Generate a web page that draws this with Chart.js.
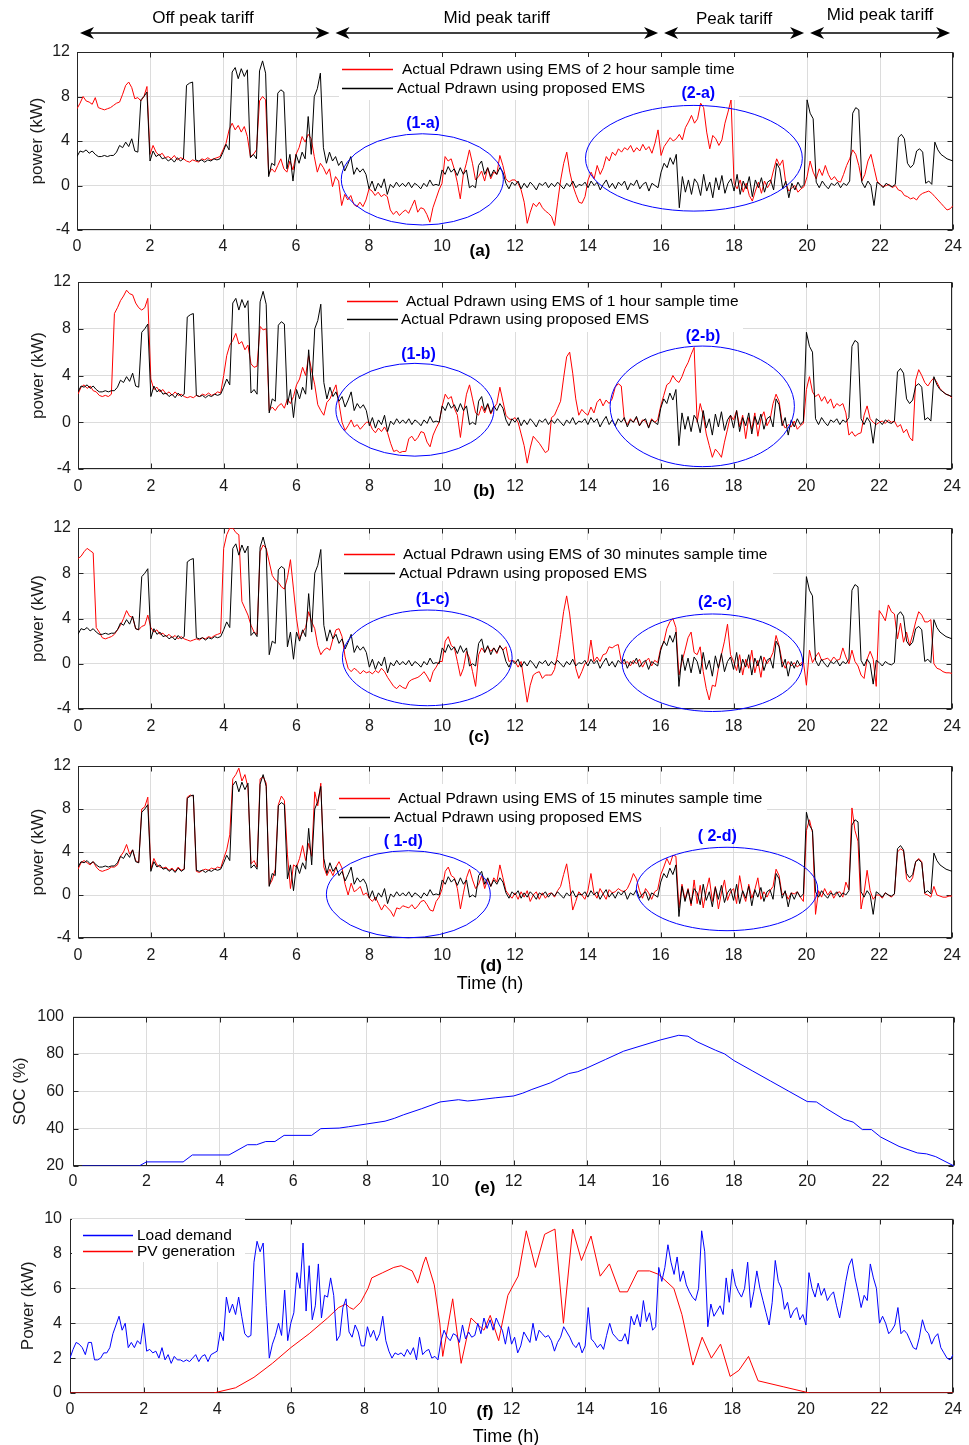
<!DOCTYPE html>
<html>
<head>
<meta charset="utf-8">
<script src="https://cdn.jsdelivr.net/npm/chart.js@4.4.1/dist/chart.umd.min.js"></script>
<style>
  body { margin: 0; background: #fff; width: 969px; height: 1445px; position: relative; overflow: hidden; }
</style>
</head>
<body>
<script>
// ---- data, 5-minute samples, one row per hour ----
const t5 = Array.from({ length: 289 }, (_, i) => i / 12); // sampling instants in hours

// Pdrawn with the proposed EMS (black, same in panels a-d)
const pProposed = [
  2.6, 3.1, 3.0, 3.2, 2.9, 3.1, 2.8, 2.6, 2.6, 2.7, 2.6, 2.7,
  2.7, 3.0, 3.6, 3.4, 3.9, 3.5, 4.2, 3.1, 3.0, 7.7, 8.0, 8.4,
  2.2, 3.1, 2.6, 2.8, 2.4, 2.5, 2.2, 2.4, 2.1, 2.5, 2.2, 2.4,
  9.0, 9.2, 9.3, 2.3, 2.2, 2.3, 2.1, 2.3, 2.2, 2.4, 2.3, 2.4,
  3.0, 3.7, 3.2, 10.2, 10.6, 9.6, 10.5, 9.8, 10.4, 2.5, 2.8, 2.4,
  10.3, 11.2, 10.1, 0.8, 2.0, 1.8, 8.3, 8.6, 8.4, 1.5, 2.8, 0.4,
  2.8, 2.0, 3.0, 2.4, 6.2, 2.8, 8.0, 8.7, 10.1, 3.4, 2.0, 3.0,
  2.2, 2.6, 1.8, 2.2, 1.3, 1.9, 2.6, 1.0, 1.6, 1.2, 1.5, 1.0,
  -0.3, 0.4, -0.5, 0.2, -0.2, 0.6, -0.8, 0.1, -0.2, 0.3, -0.1, 0.2,
  -0.1, 0.3, -0.2, 0.2, 0.0, -0.3, 0.2, -0.1, 0.5, 0.0, 0.1, 0.0,
  1.4, 1.0, 1.7, 1.2, 1.5, 0.9, 1.6, 1.0, 1.4, -0.2, 0.0, -0.2,
  1.8, 2.2, 1.0, 1.6, 0.8, 1.4, 1.0, 1.6, 1.2, 0.2, -0.3, 0.3,
  0.0, 0.4, -0.3, 0.2, -0.2, 0.3, 0.0, -0.4, 0.2, 0.0, 0.3, -0.2,
  0.2, -0.1, 0.3, 0.0, -0.3, 0.2, -0.1, 0.4, -0.2, 0.1, 0.0, 0.3,
  -0.2, 0.4, 0.0, 0.3, -0.4, 0.1, 0.5, -0.2, 0.2, -0.3, 0.3, 0.0,
  0.4, -0.4, 0.2, 0.0, 0.5, -0.3, 0.1, 0.3, -0.5, 0.2, 0.0, -0.2,
  1.2, 2.0, 1.6, 2.5, 1.9, 2.8, -2.0, 0.8, -0.6, 0.5, -0.8, 0.6,
  0.2, -0.9, 1.0, -0.5, 0.3, -1.1, 0.7, -0.4, 0.9, -0.7, 0.2, 0.6,
  -0.5, 1.0, -0.8, 0.4, -0.3, 0.8, -1.0, 0.5, -0.2, 0.7, -0.6, 0.3,
  0.5, -0.4, 2.0, 1.5, -0.3, 0.4, -1.1, 0.2, -0.4, 0.3, -0.2, 0.1,
  7.7, 6.5, 6.0, 0.3, -0.2, 0.4, 0.0, -0.3, 0.2, 0.0, 0.3, -0.2,
  0.2, 0.0, 0.4, 6.5, 7.0, 6.8, 0.3, -0.2, 0.4, 0.0, -1.8, 0.3,
  0.1, -0.2, 0.2, 0.0, -0.1, 0.1, 4.3, 4.6, 4.2, 2.0, 1.6, 1.9,
  3.1, 3.3, 3.0, 0.2, 0.4, 0.1, 3.9, 3.2, 2.8, 2.6, 2.4, 2.3,
  2.2
];

// Pdrawn with EMS of 2 hour sample time (panel a, red)
const p2h = [
  6.9, 7.4, 8.0, 7.6, 7.5, 7.3, 7.9, 7.0, 6.9, 6.8, 6.9, 7.0,
  7.2, 7.4, 7.5, 8.2, 9.0, 9.3, 8.8, 7.8, 7.9, 7.6, 8.0, 8.9,
  2.8, 3.6, 3.0, 2.7, 2.9, 2.5, 2.6, 2.4, 2.7, 2.3, 2.5, 2.4,
  2.2, 2.1, 2.3, 2.2, 2.1, 2.4, 2.3, 2.5, 2.3, 2.4, 2.5, 2.6,
  3.2, 3.8, 5.0, 5.6, 5.0, 5.4, 4.8, 5.3, 4.4, 2.6, 2.8, 3.2,
  7.6, 8.0, 7.7, 1.0, 1.5, 1.2, 1.8, 2.4, 1.5, 1.2, 2.2, 1.4,
  2.8, 3.4, 4.4, 3.9, 4.6, 4.2, 2.6, 1.2, 2.0, 1.6, 1.0, 1.5,
  -0.1, 0.8, 0.4, -1.8, -0.8, -1.3, -0.9, -1.7, -1.9, -1.5, -1.9, -1.3,
  -0.3, -0.5, -0.9, -0.6, -1.0, -0.8, -1.0, -2.2, -2.6, -2.3, -2.7, -2.4,
  -2.2, -2.5, -1.9, -1.3, -2.4, -2.0, -2.1, -2.6, -3.3, -2.0, -1.2, -0.4,
  0.2, 2.6, 2.2, 2.4, 1.5, 0.3, -1.2, 1.0, 2.0, 3.2, 2.0, 0.5,
  0.8, 1.3, 0.4, 1.6, 0.6, 1.2, 1.0, 2.7, 1.8, 0.6, 0.3, 0.5,
  0.5, 0.2, -0.4, -1.5, -3.4, -2.4, -1.6, -1.9, -1.5, -2.0, -2.3, -2.5,
  -2.8, -3.6, -1.5, 0.5, 2.0, 3.0, 1.2, 0.0, -0.8, -1.5, -1.6, -1.0,
  0.5, 1.2, 0.6, 1.8, 1.0, 1.6, 2.6, 2.2, 3.0, 2.7, 3.3, 3.0,
  3.4, 3.2, 3.6, 3.0, 3.4, 3.1, 3.7, 3.2, 3.5, 2.9, 3.8, 5.0,
  2.7, 3.5, 3.9, 4.3, 4.0, 4.2, 4.6, 4.1, 5.2, 5.7, 6.3, 5.6,
  6.0, 7.4, 7.0, 4.8, 3.3, 4.5, 4.2, 3.6, 4.1, 5.6, 6.6, 7.7,
  0.2, -0.3, 0.5, -0.6, 0.2, -0.9, -1.4, -0.5, 0.3, -0.7, 0.4, -0.2,
  0.3, 1.4, 2.4, 1.8, 2.3, 0.2, -0.5, -0.2, 0.0, -0.6, -0.3, -0.1,
  0.8, 2.2, 1.2, 0.6, 1.5, 0.9, 1.8, 1.0, 0.5, 0.8, 0.4, 0.3,
  1.0, 1.8, 2.4, 3.2, 2.8, 1.8, 0.4, 1.0, 2.2, 2.8, 1.6, 0.4,
  0.1, -0.1, 0.0, 0.1, -0.2, 0.0, -0.4, -0.5, -0.9, -1.0, -1.2, -1.1,
  -1.3, -0.9, -0.7, -0.6, -0.5, -0.7, -1.0, -1.3, -1.6, -1.9, -2.2, -2.1,
  -1.8
];

// Pdrawn with EMS of 1 hour sample time (panel b, red)
const p1h = [
  2.4, 3.0, 3.2, 2.9, 3.1, 2.7, 2.6, 2.3, 2.2, 2.3, 2.2, 2.4,
  9.3, 9.8, 10.4, 10.8, 11.3, 11.0, 10.9, 10.2, 9.8, 9.6, 9.8, 10.6,
  3.7, 2.8, 3.0, 2.6, 2.8, 2.4, 2.6, 2.3, 2.6, 2.3, 2.4, 2.2,
  2.1, 2.2, 2.1, 2.3, 2.2, 2.4, 2.3, 2.5, 2.3, 2.4, 2.6, 2.5,
  4.0, 5.7, 6.6, 7.0, 7.6, 6.7, 6.9, 6.2, 6.6, 5.0, 4.7, 4.8,
  8.2, 7.9, 8.0, 1.0, 1.3, 1.0, 1.4, 1.6, 1.2, 2.0, 1.6, 2.2,
  3.2, 3.7, 4.7, 4.0, 5.7, 4.4, 3.2, 1.5, 1.0, 0.6, 1.7, 2.0,
  2.6, 3.2, 1.6, 0.0, -0.7, -0.3, 0.2, -0.4, -0.2, -0.6, -0.3, 0.0,
  0.0, -0.6, -0.9, -0.5, -0.8, -0.4, -0.9, -1.8, -2.5, -2.4, -2.6, -2.5,
  -2.5, -1.4, -1.2, -1.6, -1.3, -0.8, -0.9, -1.7, -2.1, -1.1, -0.5, 0.0,
  1.4, 2.4, 2.0, 2.2, 1.2, 0.6, -1.3, 0.8, 2.4, 3.2, 2.0, 0.8,
  0.6, 1.4, 0.8, 1.5, 0.7, 1.2, 1.6, 3.0, 1.8, 0.6, 0.3, 0.2,
  0.4, 0.0, -1.0, -2.0, -3.5, -2.2, -1.2, -1.5, -1.8, -2.2, -2.6, -2.4,
  0.4, 0.6, 1.2, 1.8, 3.8, 5.6, 6.0, 4.2, 2.0, 0.6, 1.1, 0.8,
  0.6, 1.3, 0.8, 1.7, 2.0, 1.4, 1.9, 1.6, 2.0, 3.0, 3.3, 3.1,
  0.2, -0.2, 0.3, 0.0, 0.4, -0.3, 0.2, 0.1, -0.4, 0.3, 0.0, 0.2,
  1.4, 2.3, 3.2, 3.4, 4.0, 3.6, 3.4, 3.9, 4.6, 5.1, 5.8, 6.4,
  0.0, 1.6, 0.6, -1.0, -2.0, -3.0, -2.3, -2.6, -3.0, -1.7, -0.6, 0.6,
  0.2, 1.0, -0.4, 0.6, -1.4, 0.4, -0.6, 0.8, -1.2, 0.3, 0.9, -0.3,
  0.2, 1.6, 2.4, 1.8, 0.0, -0.5, -0.2, -0.4, 0.1, -0.6, -0.3, -0.1,
  2.8, 3.9, 2.6, 2.2, 2.4, 1.8, 2.2, 1.6, 2.0, 1.2, 1.6, 1.4,
  1.6, 0.8, -1.1, -0.8, -1.2, -1.0, -0.9, 0.6, 1.4, 0.3, 0.0, -0.2,
  0.0, 0.1, -0.1, 0.2, 0.0, 0.1, -0.4, -0.2, -0.9, -0.6, -1.3, -1.6,
  3.6, 4.5, 4.0, 3.4, 3.1, 3.5, 3.8, 3.4, 2.9, 2.6, 2.4, 2.3,
  2.1
];

// Pdrawn with EMS of 30 minutes sample time (panel c, red)
const p30m = [
  9.3, 9.5, 9.9, 10.2, 10.0, 9.8, 3.2, 2.8, 2.3, 2.2, 2.3, 2.4,
  2.6, 3.0, 3.4, 4.0, 4.7, 4.2, 4.1, 3.1, 3.0, 3.3, 3.4, 4.3,
  3.2, 2.8, 3.0, 2.6, 2.7, 2.4, 2.6, 2.3, 2.5, 2.2, 2.4, 2.2,
  2.1, 2.0, 2.1, 2.2, 2.1, 2.3, 2.2, 2.4, 2.3, 2.5, 2.6, 2.7,
  10.2, 11.4, 12.0, 12.0, 11.6, 11.4, 5.5, 4.9, 4.3, 3.4, 2.8, 2.6,
  9.9, 10.5, 10.2, 9.0, 7.8, 7.4, 7.2, 6.8, 6.6, 7.6, 9.2, 6.6,
  4.0, 2.2, 2.8, 3.2, 4.6, 3.7, 3.1, 1.6, 0.8, 1.2, 1.4, 1.2,
  2.2, 3.0, 3.1, 2.4, 0.6, -0.4, -0.7, -0.4, -0.6, -0.9, -0.6, -0.8,
  -0.7, -0.9, -0.6, -0.8, -0.4, -0.7, -1.2, -1.6, -2.0, -2.2, -1.9, -2.1,
  -2.2, -1.6, -1.4, -1.3, -1.2, -1.0, -0.7, -1.1, -1.6, -0.7, -0.3, 0.2,
  0.2, 2.0, 2.4, 1.6, 1.4, 0.2, -1.1, -0.4, 1.1, 0.5, -0.7, -2.0,
  0.8, 1.4, 1.0, 1.5, 1.1, 1.4, 0.9, 1.6, 1.2, 1.5, 0.2, 0.3,
  0.2, -0.3, 0.2, -1.6, -3.4, -1.9, -1.0, -0.8, -0.7, -1.3, -1.0, -1.0,
  -1.0, -0.5, 0.8, 2.6, 4.6, 6.0, 4.4, 2.0, -0.4, -1.3, -0.7, 0.0,
  0.2, 2.1, 0.2, 0.6, 0.2, 0.8, 0.9, 1.5, 1.4, 1.6, 1.7, 0.2,
  0.0, 0.2, -0.2, 0.3, 0.0, 0.4, -0.3, 0.2, 0.5, -0.2, 0.3, 0.1,
  1.4, 1.9, 3.1, 3.7, 4.0, 3.2, -1.0, 0.2, 1.2, 2.3, 2.8, 1.0,
  0.8, 1.5, -0.7, -2.2, -3.2, -1.9, -2.0, -0.4, 0.8, 2.0, 3.5, 0.8,
  0.2, -0.6, 0.8, -1.0, 0.4, -0.4, 1.2, -0.8, 0.3, -1.2, 0.6, 0.0,
  0.4, 1.0, 2.5, 1.6, 0.2, -0.4, 0.2, -0.2, 0.1, -0.3, 0.0, 0.2,
  -1.9, 1.2, 0.1, 0.6, 1.0, 0.3, 0.4, 0.5, 0.2, 0.6, 0.3, 0.4,
  1.4, 0.6, 0.0, 1.2, 0.2, -0.2, -1.0, -1.3, 0.4, 1.1, 0.4, -2.0,
  4.7, 4.3, 3.8, 5.2, 4.6, 4.4, 2.2, 3.6, 1.9, 2.8, 1.6, 2.6,
  3.7, 4.6, 4.3, 3.7, 3.7, 3.9, 0.0, -0.4, -0.5, -0.7, -0.8, -0.8,
  -0.85
];

// Pdrawn with EMS of 15 minutes sample time (panel d, red)
const p15m = [
  2.4, 3.0, 3.2, 3.0, 2.8, 3.1, 2.6, 2.3, 2.2, 2.3, 2.4, 2.6,
  2.6, 2.8, 3.6, 4.0, 4.7, 3.8, 4.2, 3.2, 3.0, 8.0, 8.2, 9.1,
  2.4, 3.4, 2.8, 2.6, 2.5, 2.6, 2.3, 2.5, 2.2, 2.6, 2.3, 2.4,
  9.1, 9.3, 9.2, 2.2, 2.1, 2.3, 2.4, 2.3, 2.5, 2.4, 2.6, 2.5,
  3.4, 4.2, 5.6, 10.8, 11.2, 11.8, 10.6, 11.2, 10.0, 2.9, 3.2, 2.6,
  10.8, 11.0, 10.4, 0.9, 1.4, 2.4, 8.4, 9.2, 8.8, 3.8, 0.6, 2.8,
  2.6, 3.4, 4.6, 3.2, 4.8, 3.6, 9.6, 8.3, 10.4, 2.6, 1.8, 2.4,
  1.8, 2.6, 3.1, 2.5, 1.0, 0.0, 1.1, 0.3, 0.5, 0.8, 0.0, 0.2,
  -0.3, -0.6, -0.2, -0.8, -1.4, -0.9, -1.2, -1.5, -2.0, -1.2, -1.3, -1.0,
  -1.1, -1.2, -0.9, -1.3, -1.0, -0.6, -0.5, -0.9, -1.4, -1.5, -0.6, -0.2,
  0.6, 2.2, 2.6, 1.8, 1.6, 0.6, -1.3, 0.2, 1.6, 2.4, 1.4, 0.6,
  1.0, 1.8, 0.6, 1.5, 0.8, 1.6, 1.2, 2.8, 1.6, 0.4, 0.0, -0.3,
  0.2, -0.4, 0.3, -0.2, 0.4, -0.6, 0.0, 0.3, -0.4, 0.2, -0.3, 0.1,
  0.2, -0.2, 0.4, 0.8, 1.9, 2.9, 1.0, -1.4, -0.6, 0.3, 0.0, -0.4,
  0.4, 2.0, 0.2, -0.3, 0.6, 0.1, -0.4, 0.5, 0.2, 0.3, 0.6, 0.4,
  0.3, 0.6, 1.2, 2.0, 1.5, 0.4, -0.3, 0.6, 0.2, -0.4, 0.3, 0.5,
  1.9, 2.6, 3.4, 2.8, 3.7, 3.6, -1.2, 1.0, -0.4, 0.6, -1.0, 1.4,
  -0.8, 0.9, -1.2, 0.4, 1.6, -0.6, 0.8, -1.3, 0.2, 1.4, -0.5, 0.3,
  0.6, -0.8, 1.8, 0.2, -0.6, 1.0, -0.3, 0.5, 1.6, -0.4, 0.3, -0.2,
  0.4, 0.8, 2.4, 1.8, 0.0, 0.3, -0.4, 0.2, 0.1, 0.3, -0.2, -0.6,
  6.0, 7.0, 5.8, -1.8, 0.4, -0.2, 0.6, 0.0, 0.4, -0.3, 0.2, 0.3,
  -0.2, 1.2, 0.5, 8.1, 6.0, 5.0, -1.3, 0.2, 2.3, 0.4, -0.4, 0.0,
  0.0, -0.3, 0.2, 0.0, -0.2, 0.1, 4.0, 4.3, 4.1, 1.5, 1.2, 1.6,
  3.1, 3.4, 3.1, 0.1, 0.0, -0.2, 0.8, 0.0, -0.1, -0.2, -0.2, -0.1,
  -0.1
];

// Load demand (panel f, blue)
const load = [
  2.0, 2.5, 2.9, 2.8, 2.6, 2.2, 2.9, 2.9, 1.9, 1.9, 2.0, 2.3,
  2.3, 2.6, 3.4, 3.9, 4.4, 3.6, 4.0, 2.6, 2.9, 2.6, 3.0, 2.8,
  4.0, 2.4, 2.5, 2.3, 2.4, 2.0, 2.6, 1.9, 2.2, 1.7, 2.1, 1.9,
  1.9, 1.8, 1.9, 1.8, 2.0, 2.2, 1.8, 2.1, 2.2, 1.8, 2.2, 2.3,
  2.4, 3.5, 3.0, 5.5, 4.6, 5.1, 4.5, 5.5, 4.4, 3.4, 3.2, 3.3,
  7.5, 8.7, 8.1, 8.6, 5.0, 2.0, 2.8, 3.3, 4.0, 3.3, 5.9, 3.0,
  4.0, 4.6, 6.9, 6.0, 8.6, 4.7, 7.3, 4.2, 5.0, 7.4, 4.3, 5.6,
  5.5, 6.6, 5.6, 3.0, 3.3, 4.9, 5.4, 3.5, 3.2, 3.9, 3.5, 2.7,
  2.7, 3.8, 3.2, 3.6, 3.0, 3.4, 4.4, 3.0, 2.4, 2.0, 2.3, 2.2,
  2.3, 2.1, 2.5, 2.2, 2.6, 1.9, 3.2, 2.2, 2.4, 2.5, 2.0, 2.1,
  1.9, 3.0, 3.6, 3.2, 3.0, 3.4, 3.3, 2.9, 3.9, 3.1, 3.5, 3.2,
  3.3, 4.0, 3.4, 4.3, 3.7, 4.2, 3.6, 4.3, 3.9, 3.6, 2.8, 3.8,
  2.8, 3.2, 2.3, 2.7, 3.5, 3.2, 2.9, 4.0, 3.0, 3.6, 3.4, 3.2,
  3.3, 3.0, 2.4, 2.9, 3.2, 3.8, 3.5, 3.2, 2.8, 2.6, 2.9, 2.3,
  2.7, 4.9, 3.1, 2.9, 2.6, 2.8, 2.5, 3.3, 4.0, 3.4, 3.2, 3.0,
  3.0, 3.4, 2.8, 4.4, 3.9, 4.5, 3.8, 5.3, 4.1, 4.6, 3.6, 3.8,
  7.2, 6.4, 7.2, 8.5, 7.5, 6.8, 7.8, 6.4, 7.0, 6.2, 5.8, 5.5,
  5.3, 6.0, 9.3, 8.1, 3.8, 5.1, 4.4, 4.7, 5.0, 4.5, 6.6, 5.2,
  7.1, 6.2, 5.8, 5.5, 6.0, 7.5, 4.9, 5.8, 7.0, 6.0, 5.3, 4.6,
  3.9, 5.2, 7.6, 6.4, 6.0, 4.8, 5.2, 4.3, 4.7, 4.9, 4.2, 4.5,
  3.9, 6.9, 6.0, 5.5, 6.3, 5.6, 6.0, 5.3, 5.6, 5.8, 5.0, 4.3,
  5.3, 6.4, 7.3, 7.7, 6.6, 5.8, 4.9, 5.6, 5.3, 7.4, 6.6, 6.0,
  4.0, 4.4, 4.0, 3.4, 3.6, 3.9, 4.9, 3.4, 3.6, 3.4, 3.0, 2.6,
  2.5, 3.2, 4.2, 3.6, 3.4, 2.8, 3.2, 3.4, 2.6, 2.3, 2.0, 1.9,
  2.2
];

// PV generation (panel f, red)
const pvT = [0, 3.9, 4.0, 4.5, 5.0, 5.5, 6.0, 6.5, 7.0, 7.3, 7.5, 7.6, 7.7, 7.9, 8.1, 8.2, 8.5, 8.8, 9.0, 9.3,
  9.45, 9.6, 9.67, 9.9, 10.05, 10.13, 10.4, 10.63, 10.9, 11.09, 11.25, 11.42, 11.65, 11.9, 12.18, 12.4, 12.65, 12.9, 13.18, 13.41,
  13.66, 13.9, 14.16, 14.41, 14.66, 14.94, 15.15, 15.43, 15.75, 16.0, 16.41, 16.63, 16.93, 17.18, 17.43, 17.68, 17.94, 18.18, 18.44, 18.7,
  19.4, 20.1, 24];
const pv = [0, 0, 0.05, 0.3, 0.9, 1.7, 2.6, 3.4, 4.3, 4.9, 5.1, 4.9, 4.8, 5.2, 6.0, 6.6, 6.9, 7.2, 7.3, 7.0,
  6.3, 7.4, 7.8, 6.2, 4.0, 2.1, 5.4, 1.7, 4.3, 3.9, 3.6, 4.45, 3.0, 5.6, 6.7, 9.3, 7.2, 9.1, 9.4, 4.0,
  9.4, 7.6, 9.0, 6.7, 7.4, 5.8, 5.8, 7.0, 7.0, 6.8, 6.0, 4.5, 1.6, 3.2, 2.0, 2.8, 0.95, 1.3, 2.1, 0.7,
  0.35, 0, 0];

// battery state of charge (panel e)
const socT = [0.25, 1.8, 2.0, 3.0, 3.25, 4.25, 4.75, 5.0, 5.25, 5.5, 5.75, 6.5, 6.75, 7.25, 7.5, 8.0, 8.5, 8.75, 9.0, 9.5,
  10.0, 10.5, 10.75, 11.0, 11.5, 12.0, 12.25, 12.5, 13.0, 13.5, 13.75, 14.0, 14.5, 15.0, 15.5, 16.0, 16.5, 16.75, 17.0, 17.5,
  17.75, 18.0, 18.5, 19.0, 19.5, 20.0, 20.25, 20.5, 21.0, 21.25, 21.5, 21.75, 22.0, 22.5, 23.0, 23.25, 23.5, 24.0];
const soc = [20, 20, 22.2, 22.2, 25.9, 25.9, 31.4, 31.4, 33.1, 33.1, 36.4, 36.4, 40, 40.3, 41, 42.5, 44, 45.5, 47.4, 50.7,
  54.3, 55.5, 54.8, 55.3, 56.5, 57.5, 59, 61, 64.5, 69.5, 70.5, 72.5, 77, 81.5, 84.5, 87.5, 90, 89.5, 86.5, 82,
  80, 76.5, 71, 65.5, 60, 54.5, 54.3, 51, 45, 43.5, 39.5, 39.5, 35.5, 30.5, 27, 26.5, 25, 20];

// tariff periods shown above panel (a)
const tariffNames = ['Off peak tariff', 'Mid peak tariff', 'Peak tariff', 'Mid peak tariff'];
const tariffFrom = [0, 7, 16, 20];
const tariffTo = [7, 16, 20, 24];

// ---- drawing ----
const FONT = '"Liberation Sans", Arial, Helvetica, sans-serif';
Chart.defaults.font.family = FONT;
const GRID = '#dcdcdc';
const TXT = '#1a1a1a';

const pts = (ts, vs) => vs.map((v, i) => ({ x: ts[i], y: v }));

function arrowHead(ctx, x, y, dir) {
  ctx.beginPath();
  ctx.moveTo(x, y);
  ctx.lineTo(x + dir * 14, y - 6);
  ctx.lineTo(x + dir * 10, y);
  ctx.lineTo(x + dir * 14, y + 6);
  ctx.closePath();
  ctx.fill();
}

const decor = {
  id: 'decor',
  beforeDatasetsDraw(chart) {
    // axes box with inward ticks (under the traces, so traces lying on an edge stay visible)
    const ctx = chart.ctx, a = chart.chartArea, xs = chart.scales.x, ys = chart.scales.y;
    const l = Math.round(a.left) + 0.5, t = Math.round(a.top) + 0.5;
    const r = Math.round(a.right) - 0.5, b = Math.round(a.bottom) - 0.5;
    ctx.save();
    ctx.strokeStyle = '#262626'; ctx.lineWidth = 1;
    ctx.strokeRect(l, t, r - l, b - t);
    ctx.beginPath();
    xs.ticks.forEach(tk => {
      const px = Math.round(xs.getPixelForValue(tk.value)) + 0.5;
      ctx.moveTo(px, b); ctx.lineTo(px, b - 5);
      ctx.moveTo(px, t); ctx.lineTo(px, t + 5);
    });
    ys.ticks.forEach(tk => {
      const py = Math.round(ys.getPixelForValue(tk.value)) + 0.5;
      ctx.moveTo(l, py); ctx.lineTo(l + 5, py);
      ctx.moveTo(r, py); ctx.lineTo(r - 5, py);
    });
    ctx.stroke();
    ctx.restore();
  },
  afterDatasetsDraw(chart, args, o) {
    const ctx = chart.ctx, xs = chart.scales.x, ys = chart.scales.y;
    ctx.save();
    if (o.legend) {
      const L = o.legend;
      ctx.translate(0, -o.off);
      ctx.fillStyle = '#fff';
      ctx.fillRect(L.box[0], L.box[1], L.box[2] - L.box[0], L.box[3] - L.box[1]);
      ctx.font = L.size + 'px ' + FONT;
      ctx.textBaseline = 'middle';
      ctx.textAlign = 'left';
      L.items.forEach(it => {
        ctx.strokeStyle = it.color; ctx.lineWidth = 1.4;
        ctx.beginPath(); ctx.moveTo(L.x1, it.y + 0.5); ctx.lineTo(L.x2, it.y + 0.5); ctx.stroke();
        ctx.fillStyle = '#000';
        ctx.fillText(it.text, it.tx, it.y + 1);
      });
      ctx.translate(0, o.off);
    }
    (o.ellipses || []).forEach(e => {
      const cx = xs.getPixelForValue(e.cx), cy = ys.getPixelForValue(e.cy);
      const rx = Math.abs(xs.getPixelForValue(e.cx + e.rx) - cx);
      const ry = Math.abs(ys.getPixelForValue(e.cy + e.ry) - cy);
      ctx.strokeStyle = '#0000ff'; ctx.lineWidth = 1;
      ctx.beginPath(); ctx.ellipse(cx, cy, rx, ry, 0, 0, Math.PI * 2); ctx.stroke();
      ctx.fillStyle = '#0000ff';
      ctx.font = 'bold 16px ' + FONT;
      ctx.textAlign = 'center'; ctx.textBaseline = 'middle';
      ctx.fillText(e.label, xs.getPixelForValue(e.lx), ys.getPixelForValue(e.ly));
    });
    ctx.restore();
  },
  afterDraw(chart, args, o) {
    const ctx = chart.ctx, a = chart.chartArea, xs = chart.scales.x;
    ctx.save();
    // y title
    ctx.fillStyle = TXT;
    ctx.font = '17px ' + FONT;
    ctx.textAlign = 'center'; ctx.textBaseline = 'middle';
    ctx.save();
    ctx.translate(o.ytitle.x, (a.top + a.bottom) / 2);
    ctx.rotate(-Math.PI / 2);
    ctx.fillText(o.ytitle.text, 0, 0);
    ctx.restore();
    // free texts, page coordinates
    ctx.translate(0, -o.off);
    (o.texts || []).forEach(tx => {
      ctx.font = (tx.bold ? 'bold ' : '') + tx.size + 'px ' + FONT;
      ctx.fillStyle = '#000';
      ctx.fillText(tx.text, tx.x, tx.y);
    });
    // tariff header
    if (o.header) {
      const y = o.header.y;
      ctx.strokeStyle = '#000'; ctx.fillStyle = '#000'; ctx.lineWidth = 1.5;
      tariffNames.forEach((name, i) => {
        const x1 = xs.getPixelForValue(tariffFrom[i]) + 3, x2 = xs.getPixelForValue(tariffTo[i]) - 3;
        ctx.beginPath(); ctx.moveTo(x1 + 10, y); ctx.lineTo(x2 - 10, y); ctx.stroke();
        arrowHead(ctx, x1, y, 1); arrowHead(ctx, x2, y, -1);
        ctx.font = '17px ' + FONT;
        ctx.fillText(name, xs.getPixelForValue(o.header.tx[i]), o.header.ty[i]);
      });
    }
    ctx.restore();
  }
};

function makePanel(cfg) {
  const [L, T, R, B] = cfg.box;
  const off = T - cfg.padTop;
  const H = (B - T) + cfg.padTop + cfg.padBottom;
  const div = document.createElement('div');
  div.style.cssText = 'position:absolute;left:0;top:' + off + 'px;width:969px;height:' + H + 'px';
  const cv = document.createElement('canvas');
  cv.width = 969; cv.height = H;
  div.appendChild(cv);
  document.body.appendChild(div);
  cfg.decor.off = off;
  return new Chart(cv, {
    type: 'line',
    data: { datasets: cfg.datasets },
    options: {
      responsive: false,
      animation: false,
      devicePixelRatio: 1,
      layout: { padding: { left: 0, top: cfg.padTop, right: 969 - R, bottom: 0 } },
      elements: { point: { radius: 0 }, line: { borderWidth: 1, tension: 0 } },
      plugins: { legend: { display: false }, tooltip: { enabled: false }, decor: cfg.decor },
      scales: {
        x: {
          type: 'linear', min: 0, max: 24,
          afterFit: s => { s.height = cfg.padBottom; },
          border: { display: false },
          grid: { color: GRID, drawTicks: false },
          ticks: { stepSize: 2, autoSkip: false, maxRotation: 0, padding: cfg.xpad, color: TXT, font: { size: 16 } }
        },
        y: {
          min: cfg.ymin, max: cfg.ymax,
          afterFit: s => { s.width = L; },
          border: { display: false },
          grid: { color: GRID, drawTicks: false },
          ticks: { stepSize: cfg.ystep, padding: cfg.ypad, color: TXT, font: { size: 16 } }
        }
      }
    },
    plugins: [decor]
  });
}

const lineSet = (label, data, color) => ({ label, data, borderColor: color, backgroundColor: color, borderWidth: 1, pointRadius: 0 });

const legendText = (s) => 'Actual Pdrawn using EMS of ' + s + ' sample time';
const propText = 'Actual Pdrawn using proposed EMS';

// panel (a)
makePanel({
  box: [77, 52, 958, 230], padTop: 52, padBottom: 34, ymin: -4, ymax: 12, ystep: 4, xpad: 7, ypad: 7,
  datasets: [lineSet(propText, pts(t5, pProposed), '#000000'), lineSet(legendText('2 hour'), pts(t5, p2h), '#ff0000')],
  decor: {
    ytitle: { text: 'power (kW)', x: 37 },
    texts: [{ text: '(a)', x: 480, y: 251, bold: true, size: 17 }],
    legend: { box: [339, 57, 739, 100], x1: 342, x2: 393, size: 15.5,
      items: [{ color: '#ff0000', y: 69, tx: 402, text: legendText('2 hour') }, { color: '#000000', y: 88, tx: 397, text: propText }] },
    ellipses: [
      { cx: 9.46, cy: 0.55, rx: 2.22, ry: 4.1, label: '(1-a)', lx: 9.48, ly: 5.6 },
      { cx: 16.9, cy: 2.45, rx: 2.97, ry: 4.75, label: '(2-a)', lx: 17.02, ly: 8.22 }
    ],
    header: { y: 33, tx: [3.45, 11.5, 18.0, 22.0], ty: [18, 18, 19, 15] }
  }
});

// panel (b)
makePanel({
  box: [78, 282, 958, 469], padTop: 20, padBottom: 34, ymin: -4, ymax: 12, ystep: 4, xpad: 8, ypad: 7,
  datasets: [lineSet(propText, pts(t5, pProposed), '#000000'), lineSet(legendText('1 hour'), pts(t5, p1h), '#ff0000')],
  decor: {
    ytitle: { text: 'power (kW)', x: 38 },
    texts: [{ text: '(b)', x: 484, y: 491, bold: true, size: 17 }],
    legend: { box: [344, 288, 743, 332], x1: 347, x2: 398, size: 15.5,
      items: [{ color: '#ff0000', y: 301, tx: 406, text: legendText('1 hour') }, { color: '#000000', y: 319, tx: 401, text: propText }] },
    ellipses: [
      { cx: 9.25, cy: 1.07, rx: 2.17, ry: 3.97, label: '(1-b)', lx: 9.35, ly: 5.75 },
      { cx: 17.14, cy: 1.36, rx: 2.53, ry: 5.16, label: '(2-b)', lx: 17.16, ly: 7.32 }
    ]
  }
});

// panel (c)
makePanel({
  box: [78, 528, 958, 709], padTop: 20, padBottom: 40, ymin: -4, ymax: 12, ystep: 4, xpad: 8, ypad: 7,
  datasets: [lineSet(propText, pts(t5, pProposed), '#000000'), lineSet(legendText('30 minutes'), pts(t5, p30m), '#ff0000')],
  decor: {
    ytitle: { text: 'power (kW)', x: 38 },
    texts: [{ text: '(c)', x: 479, y: 737, bold: true, size: 17 }],
    legend: { box: [341, 540, 773, 581], x1: 344, x2: 395, size: 15.5,
      items: [{ color: '#ff0000', y: 554, tx: 403, text: legendText('30 minutes') }, { color: '#000000', y: 573, tx: 399, text: propText }] },
    ellipses: [
      { cx: 9.59, cy: 0.52, rx: 2.33, ry: 4.23, label: '(1-c)', lx: 9.74, ly: 5.64 },
      { cx: 17.42, cy: 0.09, rx: 2.48, ry: 4.31, label: '(2-c)', lx: 17.49, ly: 5.4 }
    ]
  }
});

// panel (d)
makePanel({
  box: [78, 766, 957, 938], padTop: 20, padBottom: 56, ymin: -4, ymax: 12, ystep: 4, xpad: 8, ypad: 7,
  datasets: [lineSet(propText, pts(t5, pProposed), '#000000'), lineSet(legendText('15 minutes'), pts(t5, p15m), '#ff0000')],
  decor: {
    ytitle: { text: 'power (kW)', x: 38 },
    texts: [{ text: '(d)', x: 491, y: 966, bold: true, size: 17 }, { text: 'Time (h)', x: 490, y: 984, size: 18 }],
    legend: { box: [336, 784, 767, 827], x1: 339, x2: 390, size: 15.5,
      items: [{ color: '#ff0000', y: 798, tx: 398, text: legendText('15 minutes') }, { color: '#000000', y: 817, tx: 394, text: propText }] },
    ellipses: [
      { cx: 9.07, cy: 0.07, rx: 2.25, ry: 4.05, label: '( 1-d)', lx: 8.93, ly: 4.96 },
      { cx: 17.82, cy: 0.56, rx: 2.49, ry: 3.88, label: '( 2-d)', lx: 17.55, ly: 5.42 }
    ]
  }
});

// panel (e)
makePanel({
  box: [73, 1012, 957, 1166], padTop: 14, padBottom: 32, ymin: 20, ymax: 100, ystep: 20, xpad: 6, ypad: 9,
  datasets: [lineSet('SOC', pts(socT, soc), '#0000ff')],
  decor: {
    ytitle: { text: 'SOC (%)', x: 20 },
    texts: [{ text: '(e)', x: 485, y: 1188, bold: true, size: 17 }]
  }
});

// panel (f)
makePanel({
  box: [70, 1217, 955, 1393], padTop: 16, padBottom: 52, ymin: 0, ymax: 10, ystep: 2, xpad: 7, ypad: 8,
  datasets: [lineSet('Load demand', pts(t5, load), '#0000ff'), lineSet('PV generation', pts(pvT, pv), '#ff0000')],
  decor: {
    ytitle: { text: 'Power (kW)', x: 28 },
    texts: [{ text: '(f)', x: 485, y: 1412, bold: true, size: 17 }, { text: 'Time (h)', x: 506, y: 1437, size: 18 }],
    legend: { box: [72, 1219, 245, 1262], x1: 83, x2: 133, size: 15.5,
      items: [{ color: '#0000ff', y: 1235, tx: 137, text: 'Load demand' }, { color: '#ff0000', y: 1251, tx: 137, text: 'PV generation' }] }
  }
});
</script>
</body>
</html>
